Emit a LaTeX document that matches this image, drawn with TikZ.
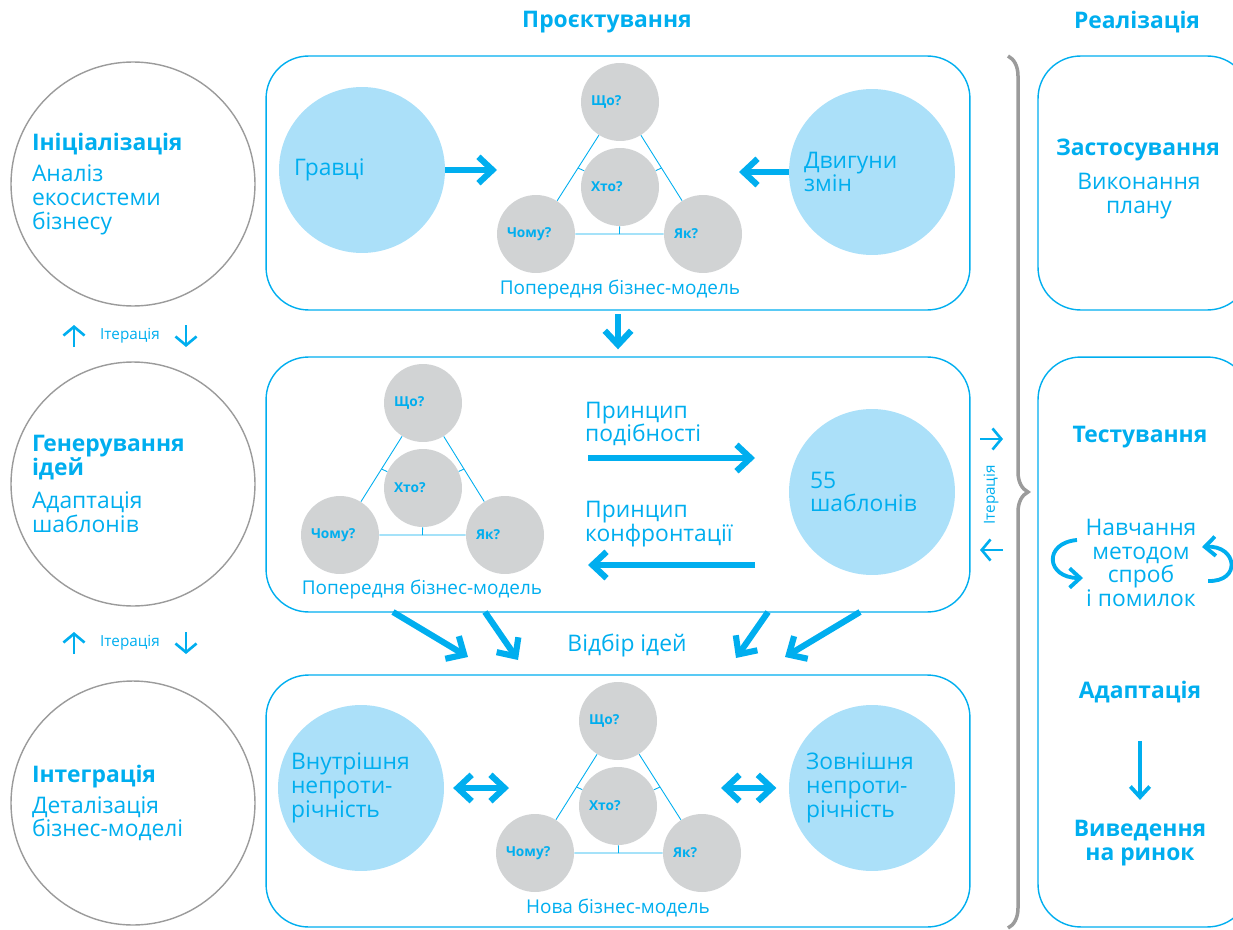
\documentclass[tikz,border=0pt]{standalone}
\usepackage{fontspec}
\setmainfont{Open Sans}
\usetikzlibrary{arrows.meta,calc,decorations.pathreplacing}

\definecolor{cyanline}{HTML}{00AEEF}
\definecolor{lightfill}{HTML}{ABE0F9}
\definecolor{qgray}{HTML}{D1D3D4}
\definecolor{ringgray}{HTML}{9B9B9B}

\newcommand\bigtext{\fontsize{13}{13.6}\selectfont}
\newcommand\headtext{\fontsize{13}{13.6}\selectfont\bfseries}
\newcommand\captext{\fontsize{10.8}{11}\selectfont}
\newcommand\qtext{\fontsize{7.8}{8}\selectfont\bfseries}
\newcommand\ittext{\fontsize{8.7}{9}\selectfont}

\tikzset{
  panel/.style={shape=rectangle,draw=cyanline,line width=0.8pt,rounded corners=0.85cm},
  ring/.style={shape=circle,draw=ringgray,line width=0.8pt,minimum size=4.88cm,inner sep=0pt,
    text width=4.04cm,align=left,font=\bigtext},
  bubble/.style={shape=circle,fill=lightfill,minimum size=3.32cm,inner sep=0pt,
    text width=2.72cm,align=left,font=\bigtext},
  qnode/.style={shape=circle,fill=qgray,minimum size=1.56cm,inner sep=0pt,
    text width=1.16cm,align=left,font=\qtext},
  tri/.style={draw=cyanline,line width=0.5pt},
  bigarrow/.style={draw=cyanline,line width=3.5pt,-{Straight Barb[length=8pt,width=15pt]}},
  dblarrow/.style={draw=cyanline,line width=3.5pt,{Straight Barb[length=8pt,width=15pt]}-{Straight Barb[length=8pt,width=15pt]}},
  midarrow/.style={draw=cyanline,line width=2.2pt,-{Straight Barb[length=6pt,width=11pt]}},
  thinarrow/.style={draw=cyanline,line width=1.5pt,-{Straight Barb[length=5pt,width=12pt]}},
  brace/.style={draw=ringgray,line width=2pt,decorate,decoration={brace,amplitude=0.4cm}}
}

\begin{document}
\begin{tikzpicture}[x=0.02cm,y=-0.02cm,text=cyanline]
    \useasboundingbox (0,0) rectangle (1233,929);
    \clip (0,0) rectangle (1233,929);

    % headings
    \node[font=\headtext] (design) at (607,22) {Проєктування};
    \node[font=\headtext] (realize) at (1137,22) {Реалізація};

    % left column
    \node[ring] (init) at (133,184) {{\headtext Ініціалізація}\\[4pt]Аналіз\\екосистеми\\бізнесу};
    \node[ring] (ideas) at (133,484) {{\headtext Генерування}\\{\headtext ідей}\\[5pt]Адаптація\\шаблонів};
    \node[ring] (integr) at (133,803) {{\headtext Інтеграція}\\[4pt]Деталізація\\бізнес-моделі};

    \node[font=\ittext] (iter1) at (130,336) {Ітерація};
    \node[font=\ittext] (iter2) at (130,643) {Ітерація};
    \coordinate (up1a) at (74,347);  \coordinate (up1b) at (74,325);
    \coordinate (dn1a) at (186,325); \coordinate (dn1b) at (186,347);
    \coordinate (up2a) at (74,654);  \coordinate (up2b) at (74,632);
    \coordinate (dn2a) at (186,632); \coordinate (dn2b) at (186,654);
    \draw[thinarrow] (up1a) -- (up1b);
    \draw[thinarrow] (dn1a) -- (dn1b);
    \draw[thinarrow] (up2a) -- (up2b);
    \draw[thinarrow] (dn2a) -- (dn2b);

    % panels
    \node[panel,minimum width=14.08cm,minimum height=5.08cm] (prelim) at (618,183) {};
    \node[panel,minimum width=14.08cm,minimum height=5.10cm] (generate) at (618,484.5) {};
    \node[panel,minimum width=14.08cm,minimum height=5.04cm] (newmodel) at (618,801) {};
    \node[panel,minimum width=4.24cm,minimum height=5.08cm] (apply) at (1144,183) {};
    \node[panel,minimum width=4.24cm,minimum height=11.4cm] (test) at (1144,642) {};

    % first panel
    \node[bubble] (gravci) at (362,170) {Гравці};
    \node[bubble] (dvyg) at (872,172) {Двигуни\\змін};
    \node[qnode] (sho1) at (620,102) {Що?};
    \node[qnode] (hto1) at (620,187) {Хто?};
    \node[qnode] (chomu1) at (536,234) {Чому?};
    \node[qnode] (yak1) at (703,234) {Як?};
    \draw[tri] (sho1) -- (chomu1) -- (yak1) -- (sho1);
    \draw[tri] (hto1) -- ($(sho1)!0.5!(chomu1)$);
    \draw[tri] (hto1) -- ($(sho1)!0.5!(yak1)$);
    \draw[tri] (hto1) -- ($(chomu1)!0.5!(yak1)$);
    \node[font=\captext] (cap1) at (620,290) {Попередня бізнес-модель};
    \coordinate (gravci-tip) at (497,170);
    \coordinate (dvyg-tip) at (739,172);
    \draw[bigarrow] (gravci) -- (gravci-tip);
    \draw[bigarrow] (dvyg) -- (dvyg-tip);

    \draw[bigarrow,shorten <=2pt,shorten >=4pt] (prelim) -- (generate);

    % second panel
    \node[qnode] (sho2) at (423,403) {Що?};
    \node[qnode] (hto2) at (423,488) {Хто?};
    \node[qnode] (chomu2) at (340,535) {Чому?};
    \node[qnode] (yak2) at (505,535) {Як?};
    \draw[tri] (sho2) -- (chomu2) -- (yak2) -- (sho2);
    \draw[tri] (hto2) -- ($(sho2)!0.5!(chomu2)$);
    \draw[tri] (hto2) -- ($(sho2)!0.5!(yak2)$);
    \draw[tri] (hto2) -- ($(chomu2)!0.5!(yak2)$);
    \node[font=\captext] (cap2) at (422,590) {Попередня бізнес-модель};
    \node[bubble,text width=2.48cm] (shabl) at (872,492) {55\\шаблонів};
    \node[font=\bigtext,align=left,anchor=west] (simil) at (579,424) {Принцип\\подібності};
    \node[font=\bigtext,align=left,anchor=west] (confr) at (579,524) {Принцип\\конфронтації};
    \coordinate (sim-a) at (588,458); \coordinate (sim-b) at (755,458);
    \coordinate (conf-a) at (755,565); \coordinate (conf-b) at (588,565);
    \draw[bigarrow] (sim-a) -- (sim-b);
    \draw[bigarrow] (conf-a) -- (conf-b);

    % selection
    \node[font=\bigtext] (select) at (627,645) {Відбір ідей};
    \coordinate (sel1a) at (393,612); \coordinate (sel1b) at (468,657);
    \coordinate (sel2a) at (485,612); \coordinate (sel2b) at (518,660);
    \coordinate (sel3a) at (768,612); \coordinate (sel3b) at (736,658);
    \coordinate (sel4a) at (860,612); \coordinate (sel4b) at (785,657);
    \draw[bigarrow] (sel1a) -- (sel1b);
    \draw[bigarrow] (sel2a) -- (sel2b);
    \draw[bigarrow] (sel3a) -- (sel3b);
    \draw[bigarrow] (sel4a) -- (sel4b);

    % third panel
    \node[bubble,text width=2.8cm] (vnutr) at (361,788) {Внутрішня\\непроти-\\річність};
    \node[bubble,text width=2.64cm] (zovn) at (872,788) {Зовнішня\\непроти-\\річність};
    \node[qnode] (sho3) at (618,721) {Що?};
    \node[qnode] (hto3) at (618,806) {Хто?};
    \node[qnode] (chomu3) at (535,853) {Чому?};
    \node[qnode] (yak3) at (702,853) {Як?};
    \draw[tri] (sho3) -- (chomu3) -- (yak3) -- (sho3);
    \draw[tri] (hto3) -- ($(sho3)!0.5!(chomu3)$);
    \draw[tri] (hto3) -- ($(sho3)!0.5!(yak3)$);
    \draw[tri] (hto3) -- ($(chomu3)!0.5!(yak3)$);
    \node[font=\captext] (cap3) at (618,908) {Нова бізнес-модель};
    \coordinate (in-tip) at (509,788);
    \coordinate (out-tip) at (721,788);
    \draw[dblarrow,shorten <=5pt] (vnutr) -- (in-tip);
    \draw[dblarrow,shorten <=7pt] (zovn) -- (out-tip);

    % iteration between the columns
    \draw[brace] (1008,56) -- (1008,928);
    \node[font=\ittext,rotate=90] (iter3) at (991,495) {Ітерація};
    \coordinate (itr-a) at (980,439); \coordinate (itr-b) at (1003,439);
    \coordinate (itl-a) at (1003,550); \coordinate (itl-b) at (980,550);
    \draw[thinarrow] (itr-a) -- (itr-b);
    \draw[thinarrow] (itl-a) -- (itl-b);

    % right column
    \node[font=\headtext] (zast) at (1138,150) {Застосування};
    \node[font=\bigtext,align=center] (vykon) at (1139,196) {Виконання\\плану};
    \node[font=\headtext] (testing) at (1140,437) {Тестування};
    \node[font=\bigtext,align=center] (navch) at (1141,563) {Навчання\\методом\\спроб\\і помилок};
    \coordinate (loop1a) at (1077,540); \coordinate (loop1b) at (1083,578);
    \coordinate (loop2a) at (1208,581); \coordinate (loop2b) at (1202,547);
    \draw[midarrow] (loop1a) .. controls (1043,543) and (1046,578) .. (loop1b);
    \draw[midarrow] (loop2a) .. controls (1242,582) and (1237,545) .. (loop2b);
    \node[font=\headtext] (adapt) at (1140,692) {Адаптація};
    \node[font=\headtext,align=center] (vyved) at (1140,843) {Виведення\\на ринок};
    \draw[midarrow,shorten <=18pt,shorten >=8pt] (adapt) -- (vyved);
\end{tikzpicture}
\end{document}
